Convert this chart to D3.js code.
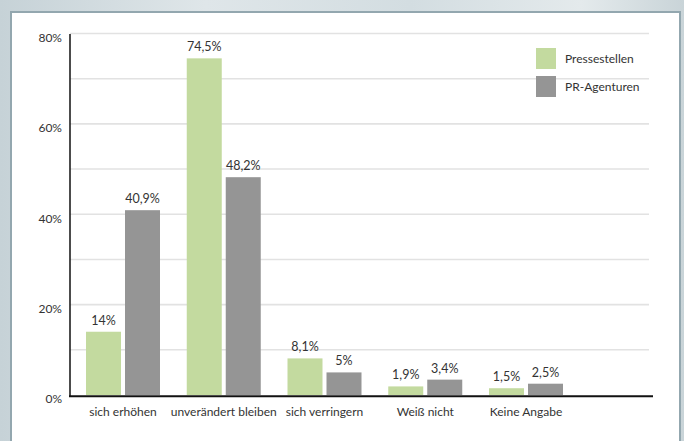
<!DOCTYPE html>
<html>
<head>
<meta charset="utf-8">
<script src="https://cdn.jsdelivr.net/npm/d3@7"></script>
<style>
  html, body { margin: 0; padding: 0; }
  body { width: 684px; height: 441px; overflow: hidden;
         background: linear-gradient(90deg, #c6d2d7 0%, #dfe6e9 30%, #d3dde1 60%, #e4eaec 85%, #c9d4d8 100%); }
  svg { display: block; }
  text { font-family: Lato, "Open Sans", sans-serif; fill: #333; }
</style>
</head>
<body>
<svg id="chart" width="684" height="441"></svg>
<script>
const categories = ["sich erhöhen", "unverändert bleiben", "sich verringern", "Weiß nicht", "Keine Angabe"];
const seriesNames = ["Pressestellen", "PR-Agenturen"];
const pressestellen = [14, 74.5, 8.1, 1.9, 1.5];
const prAgenturen = [40.9, 48.2, 5, 3.4, 2.5];
const valueLabels = [["14%", "74,5%", "8,1%", "1,9%", "1,5%"], ["40,9%", "48,2%", "5%", "3,4%", "2,5%"]];
const yTicks = [0, 20, 40, 60, 80];
const gridTicks = [10, 20, 30, 40, 50, 60, 70, 80];
const colors = ["#c3da9f", "#959595"];

const svg = d3.select("#chart");

// white panel with frame
svg.append("rect").attr("x", 11).attr("y", 12).attr("width", 669).attr("height", 440)
  .attr("fill", "#ffffff").attr("stroke", "#93a7af").attr("stroke-width", 2);

const x0 = d3.scaleBand().domain(categories).range([70, 579]).paddingInner(0.2655).paddingOuter(0.1588);
const x1 = d3.scaleBand().domain(seriesNames).range([0, x0.bandwidth()]).paddingInner(0.1026);
const y = d3.scaleLinear().domain([0, 80]).range([395, 33.5]);

// gridlines
svg.append("g").selectAll("line").data(gridTicks).join("line")
  .attr("x1", 70).attr("x2", 649)
  .attr("y1", d => y(d)).attr("y2", d => y(d))
  .attr("stroke", "#e2e2e2").attr("stroke-width", 1.6);

// y axis labels
const yAxis = d3.axisLeft(y).tickValues(yTicks).tickFormat(d => d + "%").tickSize(0).tickPadding(8);
const gy = svg.append("g").attr("transform", "translate(70,0)").call(yAxis);
gy.select(".domain").remove();
gy.selectAll("text").attr("font-size", 12).attr("fill", "#333").attr("dy", "0.65em")
  .style("font-family", "Lato, 'Open Sans', sans-serif");

const series = [pressestellen, prAgenturen];
const g = svg.append("g");
series.forEach((vals, si) => {
  g.append("g").selectAll("rect").data(vals).join("rect")
    .attr("x", (d, i) => x0(categories[i]) + x1(seriesNames[si]))
    .attr("width", x1.bandwidth())
    .attr("y", d => y(d))
    .attr("height", d => y(0) - y(d))
    .attr("fill", colors[si]);
  g.append("g").selectAll("text").data(vals).join("text")
    .attr("x", (d, i) => x0(categories[i]) + x1(seriesNames[si]) + x1.bandwidth() / 2)
    .attr("y", d => y(d) - 7)
    .attr("text-anchor", "middle").attr("font-size", 12.5)
    .text((d, i) => valueLabels[si][i]);
});

// axis lines
svg.append("line").attr("x1", 70).attr("x2", 70).attr("y1", 34).attr("y2", 397)
  .attr("stroke", "#111").attr("stroke-width", 1.5);
svg.append("line").attr("x1", 69).attr("x2", 653).attr("y1", 396.2).attr("y2", 396.2)
  .attr("stroke", "#111").attr("stroke-width", 2);

// category labels
const xAxis = d3.axisBottom(x0).tickSize(0).tickPadding(10);
const gx = svg.append("g").attr("transform", "translate(0,397)").call(xAxis);
gx.select(".domain").remove();
gx.selectAll("text").attr("font-size", 12).attr("fill", "#333")
  .style("font-family", "Lato, 'Open Sans', sans-serif");

// legend
const lg = svg.append("g").attr("transform", "translate(536,48)");
seriesNames.forEach((s, i) => {
  lg.append("rect").attr("x", 0).attr("y", i * 28).attr("width", 20).attr("height", 21).attr("fill", colors[i]);
  lg.append("text").attr("x", 29).attr("y", i * 28 + 11).attr("dy", "0.35em")
    .attr("font-size", 12).text(s);
});
</script>
</body>
</html>
